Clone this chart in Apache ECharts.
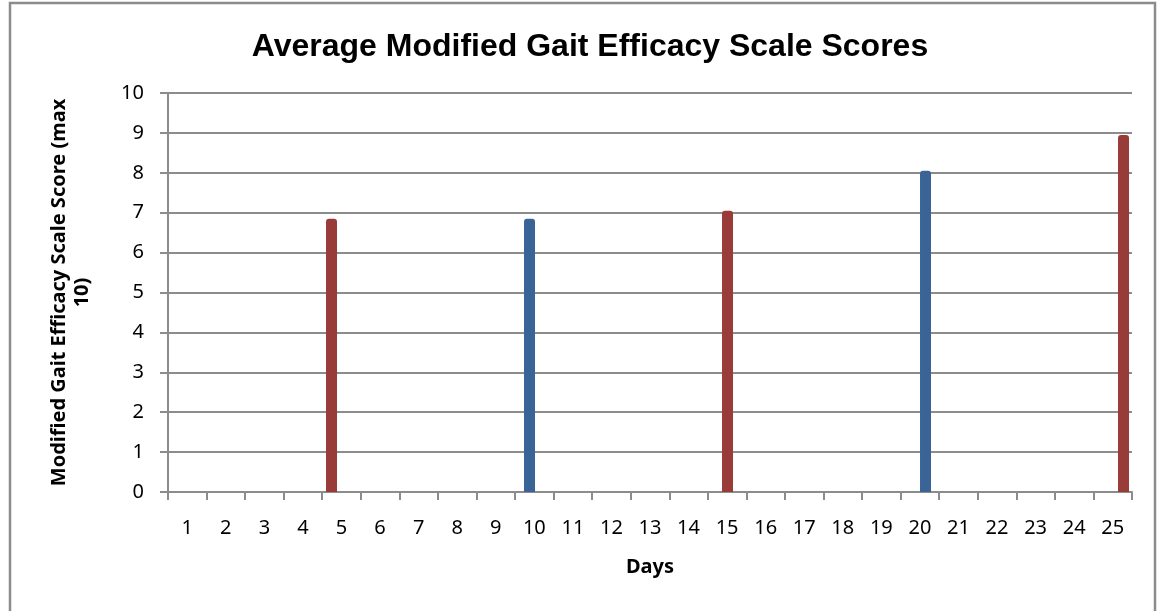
<!DOCTYPE html>
<html>
<head>
<meta charset="utf-8">
<script src="https://cdn.jsdelivr.net/npm/echarts@6/dist/echarts.min.js"></script>
<style>
html, body { margin: 0; padding: 0; background: #fff; }
#chart { width: 1157px; height: 611px; }
</style>
</head>
<body>
<div id="chart"></div>
<script>
// axis labels
var days = [];
for (var d = 1; d <= 25; d++) days.push(String(d));
var yTicks = [0, 1, 2, 3, 4, 5, 6, 7, 8, 9, 10];

// scores: [day, score]
var redScores = [[5, 6.85], [15, 7.05], [25, 8.95]];
var blueScores = [[10, 6.85], [20, 8.05]];

var chart = echarts.init(document.getElementById('chart'));
var grey = '#8c8c8c';
var option = {
    animation: false,
    title: {
        text: 'Average Modified Gait Efficacy Scale Scores',
        left: 585,
        textAlign: 'center',
        top: 26,
        textStyle: { fontFamily: 'Liberation Sans', fontSize: 32, fontWeight: 'bold', color: '#000' }
    },
    graphic: [{
        type: 'rect',
        shape: { x: 10, y: 3, width: 1145, height: 640 },
        style: { fill: 'none', stroke: grey, lineWidth: 2.5 },
        silent: true
    }],
    grid: { left: 168, right: 25, top: 93, bottom: 119 },
    xAxis: [
        {
            type: 'category',
            data: days,
            name: 'Days',
            nameLocation: 'middle',
            nameGap: 65,
            nameTextStyle: { fontFamily: 'Noto Sans', fontSize: 20, fontWeight: 'bold', color: '#000' },
            axisLine: { show: true, lineStyle: { color: grey, width: 2 } },
            axisTick: { show: true, interval: 0, length: 8, lineStyle: { color: grey, width: 2 } },
            axisLabel: { interval: 0, margin: 26, fontFamily: 'Noto Sans', fontSize: 20, color: '#000' }
        },
        {
            type: 'value',
            show: false,
            min: 0.871,
            max: 25.214
        }
    ],
    yAxis: {
        type: 'value',
        min: yTicks[0],
        max: yTicks[yTicks.length - 1],
        interval: 1,
        name: 'Modified Gait Efficacy Scale Score (max\n10)',
        nameLocation: 'middle',
        nameGap: 74,
        nameTextStyle: { fontFamily: 'Noto Sans', fontSize: 20, fontWeight: 'bold', color: '#000', lineHeight: 23, align: 'center' },
        axisLine: { show: true, lineStyle: { color: grey, width: 2 } },
        axisTick: { show: true, length: 8, lineStyle: { color: grey, width: 2 } },
        axisLabel: { margin: 24, fontFamily: 'Noto Sans', fontSize: 20, color: '#000' },
        splitLine: { lineStyle: { color: grey, width: 2 } }
    },
    series: [
        {
            name: 'red',
            type: 'bar',
            xAxisIndex: 1,
            barWidth: 11,
            barGap: '-100%',
            data: redScores,
            itemStyle: { color: '#993b39', borderRadius: [3, 3, 0, 0] }
        },
        {
            name: 'blue',
            type: 'bar',
            xAxisIndex: 1,
            barWidth: 11,
            barGap: '-100%',
            data: blueScores,
            itemStyle: { color: '#3a6396', borderRadius: [3, 3, 0, 0] }
        }
    ]
};
chart.setOption(option);
</script>
</body>
</html>
